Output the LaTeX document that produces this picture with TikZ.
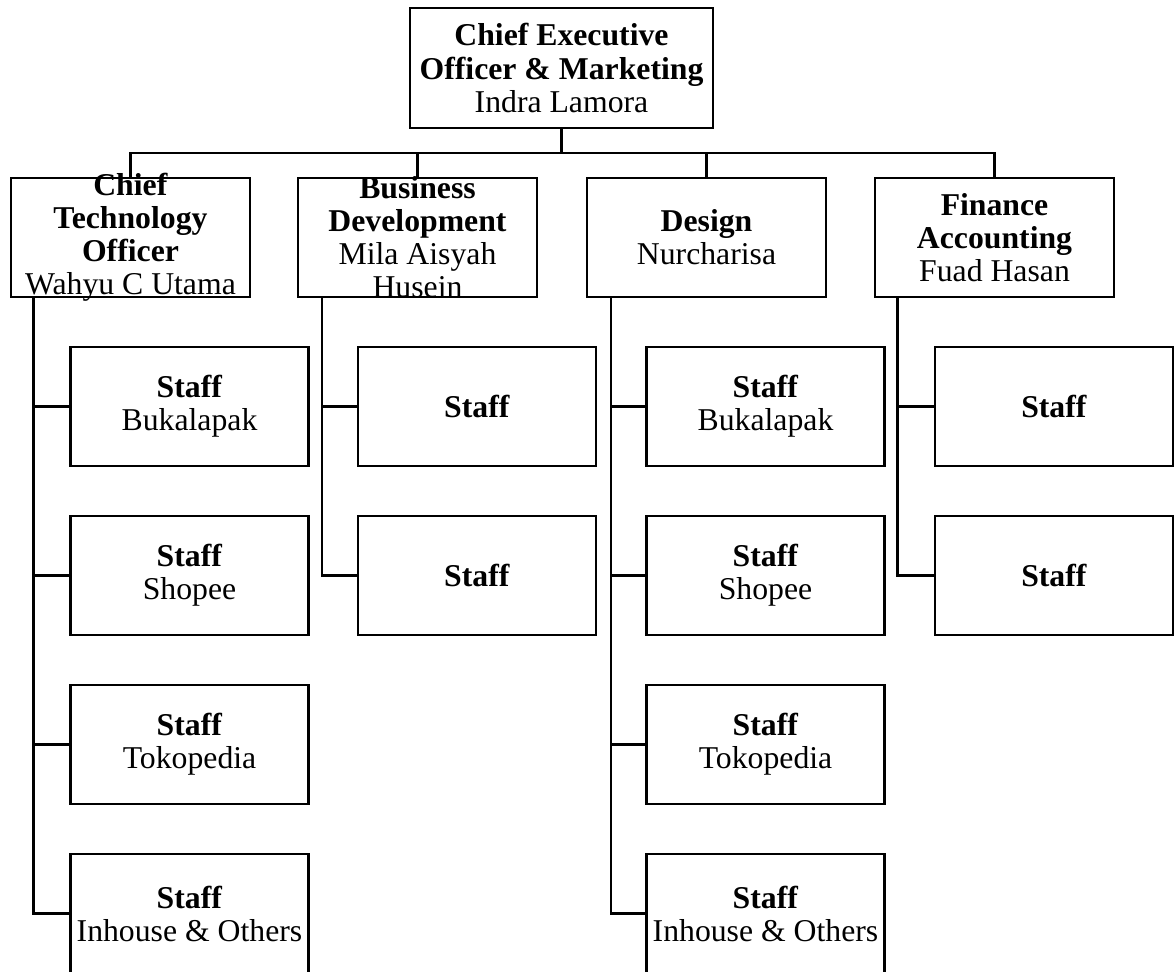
\documentclass[tikz,border=0pt]{standalone}
\usepackage{fontspec}
\setmainfont{Liberation Serif}
\begin{document}
\begin{tikzpicture}[x=0.75pt, y=-0.75pt, line width=1.7pt,
  box/.style={draw, rectangle, inner sep=0pt, minimum width=179pt, minimum height=89.25pt},
  txt/.style={align=center, inner sep=0pt, font=\fontsize{23.8}{24.8}\selectfont},
  staff/.style={box, txt, minimum width=178.5pt, minimum height=89.25pt}]
\clip (0,0) rectangle (1176,971);

% top level
\node[box, minimum width=227.25pt, minimum height=90pt] (ceo) at (561.5,68) {};
\node[txt] (ceoT) at (ceo) {\textbf{Chief Executive}\\\textbf{Officer \& Marketing}\\Indra Lamora};

% second level (text may run over the frame, as in the chart)
\node[box] (cto) at (130.5,237.5) {};
\node[txt] (ctoT) at (cto) {\textbf{Chief}\\\textbf{Technology}\\\textbf{Officer}\\Wahyu C Utama};
\node[box] (bd) at (417.5,237.5) {};
\node[txt] (bdT) at (bd) {\textbf{Business}\\\textbf{Development}\\Mila Aisyah\\Husein};
\node[box] (des) at (706.5,237.5) {};
\node[txt] (desT) at (des) {\textbf{Design}\\Nurcharisa};
\node[box] (fin) at (994.5,237.5) {};
\node[txt] (finT) at (fin) {\textbf{Finance}\\\textbf{Accounting}\\Fuad Hasan};

% bus from the CEO
\coordinate (bus) at (ceo.south |- 0,153);
\draw (ceo.south) -- (bus);
\foreach \n in {cto,bd,des,fin}
  \draw (bus) -| (\n.north);

% staff under technology and design
\foreach \i/\lab in {1/Bukalapak,2/Shopee,3/Tokopedia,4/Inhouse \& Others}{
  \node[staff] (cto\i) at (189.5,237.5+169*\i) {\textbf{Staff}\\\lab};
  \draw ([xshift=17.5pt]cto.south west) |- (cto\i.west);
  \node[staff] (des\i) at (765.5,237.5+169*\i) {\textbf{Staff}\\\lab};
  \draw ([xshift=18.5pt]des.south west) |- (des\i.west);
}

% staff under business and finance
\foreach \i in {1,2}{
  \node[staff] (bd\i) at (477,237.5+169*\i) {\textbf{Staff}};
  \draw ([xshift=18.5pt]bd.south west) |- (bd\i.west);
  \node[staff] (fin\i) at (1054,237.5+169*\i) {\textbf{Staff}};
  \draw ([xshift=17.5pt]fin.south west) |- (fin\i.west);
}
\end{tikzpicture}
\end{document}
